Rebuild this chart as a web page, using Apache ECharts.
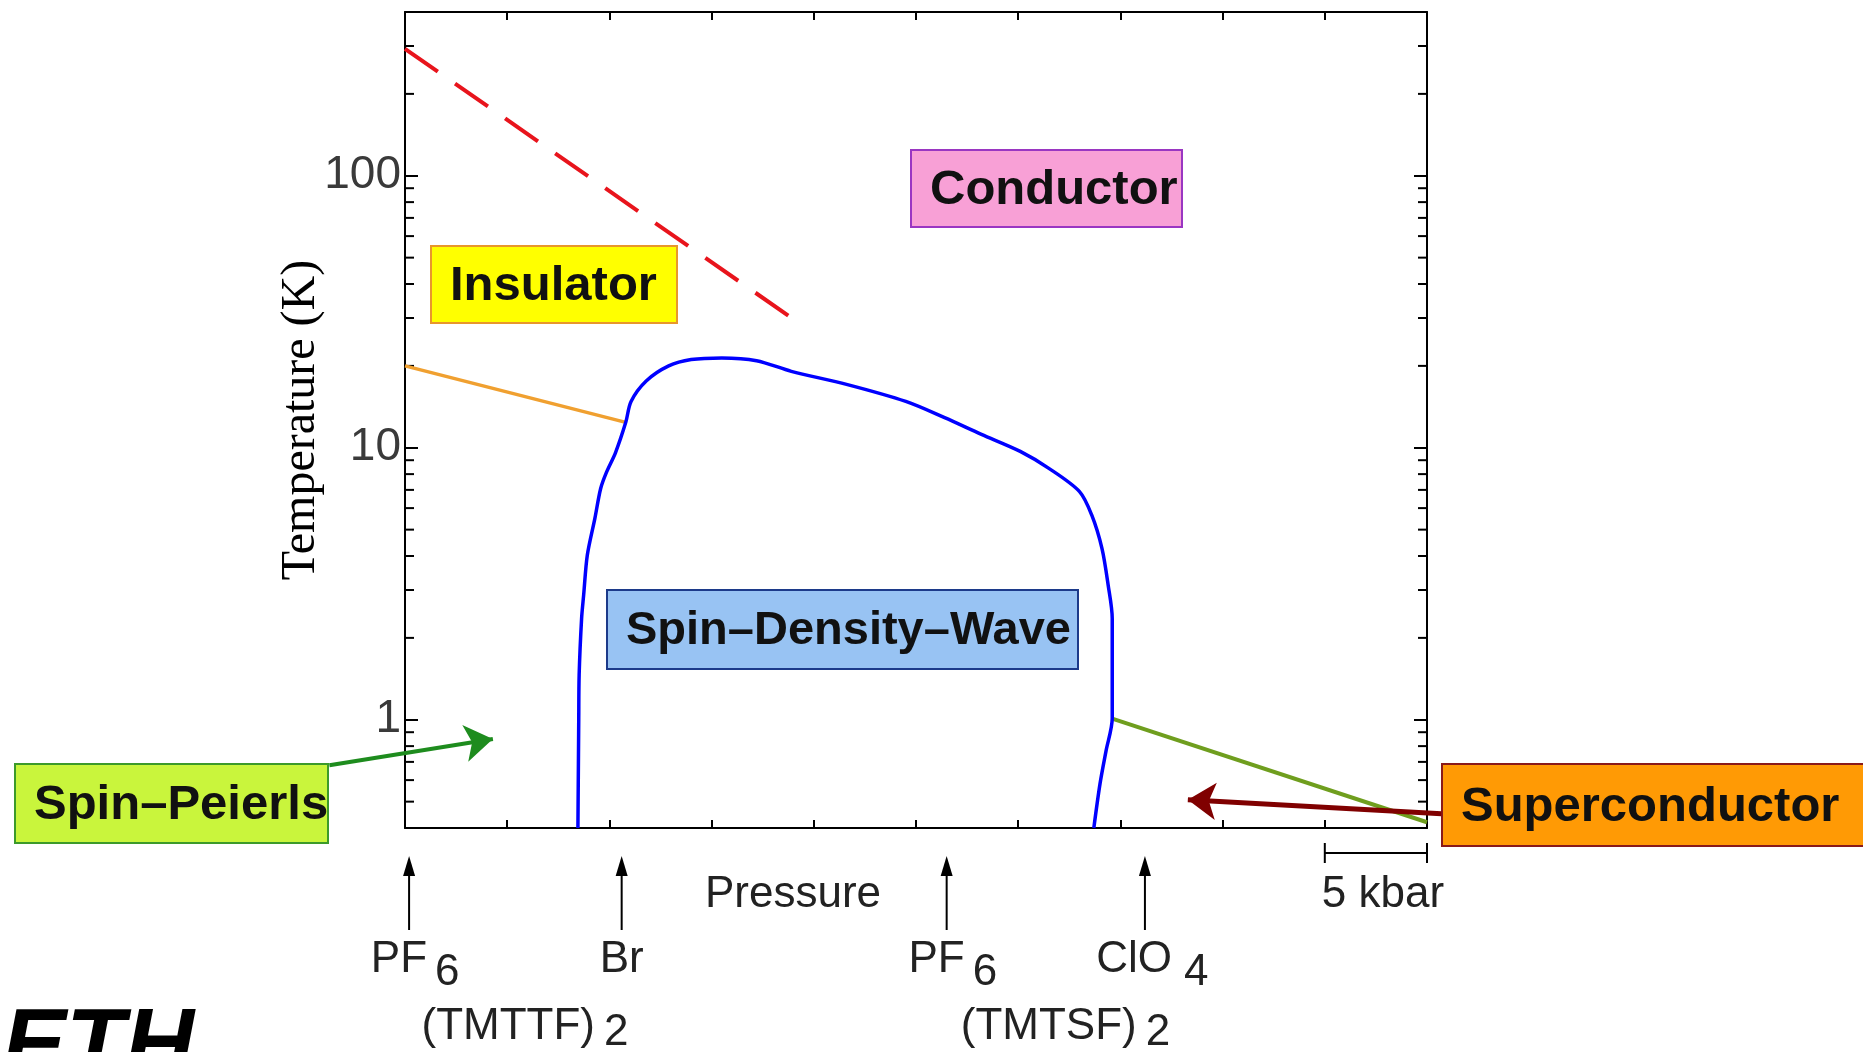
<!DOCTYPE html>
<html>
<head>
<meta charset="utf-8">
<script src="https://cdn.jsdelivr.net/npm/echarts@6/dist/echarts.min.js"></script>
<style>
html,body{margin:0;padding:0;background:#fff;}
#chart{width:1863px;height:1052px;}
</style>
</head>
<body>
<div id="chart"></div>
<script>
// ---- data (pressure in kbar, temperature in K) ----
const sdwPressure    = [8.46, 8.50, 8.52, 8.64, 8.74, 8.92, 9.29, 9.57, 9.85, 10.3, 10.8, 11.06, 11.8, 12.9, 14.0, 15.5, 17.2, 18.9, 21.6, 24.5, 26.4, 28.2, 30.1, 31.5, 33.0, 33.6, 34.1, 34.4, 34.6, 34.6, 34.3, 34.0, 33.7];
const sdwTemperature = [0.4, 1.0, 1.46, 2.36, 2.87, 4.03, 5.5, 7.07, 8.1, 9.6, 12.4, 14.8, 17.6, 20.0, 21.1, 21.4, 20.9, 19.1, 17.1, 14.8, 12.9, 11.2, 9.7, 8.4, 6.9, 5.65, 4.26, 3.13, 2.36, 1.01, 0.77, 0.58, 0.4];

const metalInsPressure = [0, 19.2];
const metalInsTemp     = [293, 29];

const insSdwPressure = [0, 10.8];
const insSdwTemp     = [20, 12.4];

const scPressure = [34.6, 50];
const scTemp     = [1.01, 0.42];

const spinPeierlsArrow    = [[-3.7, 0.68], [4.3, 0.85]];
const superconductorArrow = [[50.7, 0.451], [38.3, 0.508]];

const compoundPressure = [0.2, 10.6, 26.5, 36.2];
const compoundAnion    = ['PF', 'Br', 'PF', 'ClO'];
const compoundIndex    = ['6', '', '6', '4'];
const familyNames      = ['(TMTTF)', '(TMTSF)'];
const familyCenterP    = [0, 26.5];

const yMajorTicks = [1, 10, 100];
const yMinorTicks = [0.5, 0.6, 0.7, 0.8, 0.9, 2, 3, 4, 5, 6, 7, 8, 9, 20, 30, 40, 50, 60, 70, 80, 90, 200, 300];
const xMin = 0, xMax = 50, xStep = 5;
const yMin = 0.4, yMax = 400;
const scaleBar = [45, 50];

// ---- chart ----
const chart = echarts.init(document.getElementById('chart'), null, {renderer: 'canvas'});
const FONT = 'Liberation Sans';
const pair = (xs, ys) => xs.map((x, i) => [x, ys[i]]);

const xAxisCommon = {
  type: 'value', min: xMin, max: xMax, interval: xStep,
  axisLine: {show: true, onZero: false, lineStyle: {color: '#000', width: 2}},
  axisTick: {show: true, inside: true, length: 8, lineStyle: {color: '#000', width: 2}},
  axisLabel: {show: false},
  splitLine: {show: false}
};
const yAxisCommon = {
  type: 'log', logBase: 10, min: yMin, max: yMax,
  axisLine: {show: true, onZero: false, lineStyle: {color: '#000', width: 2}},
  axisTick: {show: true, inside: true, length: 13, lineStyle: {color: '#000', width: 2}},
  splitLine: {show: false},
  minorTick: {show: false}
};

const option = {
  backgroundColor: '#fff',
  animation: false,
  grid: {left: 405, right: 436, top: 12, bottom: 224, containLabel: false},
  xAxis: [
    Object.assign({position: 'bottom'}, xAxisCommon),
    Object.assign({position: 'top'}, xAxisCommon)
  ],
  yAxis: [
    Object.assign({
      position: 'left',
      name: 'Temperature (K)', nameLocation: 'middle', nameRotate: 90, nameGap: 80,
      nameMoveOverlap: false,
      nameTextStyle: {fontFamily: 'Liberation Serif', fontSize: 48, color: '#000'},
      axisLabel: {
        show: true, margin: 4, fontFamily: FONT, fontSize: 46, color: '#3a3a3a',
        showMinLabel: false, showMaxLabel: false,
        formatter: v => {
          const r = Math.round(v);
          return yMajorTicks.some(t => Math.abs(t - v) < 1e-6 * t) ? String(r) : '';
        }
      }
    }, yAxisCommon),
    Object.assign({position: 'right', axisLabel: {show: false}}, yAxisCommon)
  ],
  series: [
    {
      type: 'custom', name: 'minor ticks', silent: true, xAxisIndex: 0, yAxisIndex: 0,
      data: yMinorTicks.map(v => [xMin, v]),
      renderItem: (params, api) => {
        const v = api.value(1);
        const l = api.coord([xMin, v]);
        const r = api.coord([xMax, v]);
        return {type: 'group', children: [
          {type: 'line', shape: {x1: l[0], y1: l[1], x2: l[0] + 9, y2: l[1]}, style: {stroke: '#000', lineWidth: 2}},
          {type: 'line', shape: {x1: r[0] - 9, y1: r[1], x2: r[0], y2: r[1]}, style: {stroke: '#000', lineWidth: 2}}
        ]};
      }
    },
    {
      type: 'line', name: 'metal-insulator', data: pair(metalInsPressure, metalInsTemp),
      symbol: 'none',
      lineStyle: {color: '#e8141c', width: 4, type: [40, 21]}
    },
    {
      type: 'line', name: 'insulator-SDW', data: pair(insSdwPressure, insSdwTemp),
      symbol: 'none', lineStyle: {color: '#f0a030', width: 3.5}
    },
    {
      type: 'line', name: 'SC boundary', data: pair(scPressure, scTemp),
      symbol: 'none', lineStyle: {color: '#6f9e1e', width: 4}
    },
    {
      type: 'line', name: 'SDW', data: pair(sdwPressure, sdwTemperature),
      symbol: 'none', smooth: 0.3, lineStyle: {color: '#0000ff', width: 3.5}
    },
    {
      type: 'lines', coordinateSystem: 'cartesian2d', name: 'Spin-Peierls arrow', clip: false,
      symbol: ['none', 'arrow'], symbolSize: 28, z: 10,
      lineStyle: {color: '#1e8c1e', width: 4, opacity: 1},
      data: [{coords: spinPeierlsArrow}]
    },
    {
      type: 'lines', coordinateSystem: 'cartesian2d', name: 'Superconductor arrow', clip: false,
      symbol: ['none', 'arrow'], symbolSize: 28, z: 10,
      lineStyle: {color: '#800000', width: 5, opacity: 1},
      data: [{coords: superconductorArrow}]
    }
  ]
};
chart.setOption(option);

// ---- annotations ----
const px = p => chart.convertToPixel({xAxisIndex: 0}, p);

function box(x, y, w, h, fill, stroke, label, size) {
  return {
    type: 'group', x: x, y: y, z: 20,
    children: [
      {type: 'rect', shape: {x: 0, y: 0, width: w, height: h}, style: {fill: fill, stroke: stroke, lineWidth: 2}},
      {type: 'text', x: 19, y: h / 2 + 2, style: {text: label, fill: '#111', font: 'bold ' + (size || 49) + 'px "' + FONT + '"', textAlign: 'left', textVerticalAlign: 'middle'}}
    ]
  };
}

const graphics = [
  box(911, 150, 271, 77, '#f8a0d6', '#9a36c2', 'Conductor'),
  box(431, 246, 246, 77, '#ffff00', '#e8962c', 'Insulator'),
  box(607, 590, 471, 79, '#98c3f3', '#1c3a8a', 'Spin–Density–Wave', 47),
  box(15, 764, 313, 79, '#c9f53c', '#3c9a2a', 'Spin–Peierls'),
  box(1442, 764, 440, 82, '#ff9a05', '#8a1a1a', 'Superconductor')
];

const labelFont = '44px "' + FONT + '"';
const anionRight = [18, 0, 18, 27];
const indexLeft  = [26, 0, 26, 39];
compoundPressure.forEach((p, i) => {
  const x = px(p);
  graphics.push({type: 'line', shape: {x1: x, y1: 870, x2: x, y2: 930}, style: {stroke: '#000', lineWidth: 2}});
  graphics.push({type: 'polygon', shape: {points: [[x, 856], [x - 6, 876], [x + 6, 876]]}, style: {fill: '#000'}});
  if (compoundIndex[i]) {
    graphics.push({type: 'text', x: x + anionRight[i], y: 982, style: {text: compoundAnion[i], fill: '#222', font: labelFont, textAlign: 'right', textVerticalAlign: 'bottom'}});
    graphics.push({type: 'text', x: x + indexLeft[i], y: 995, style: {text: compoundIndex[i], fill: '#222', font: labelFont, textAlign: 'left', textVerticalAlign: 'bottom'}});
  } else {
    graphics.push({type: 'text', x: x, y: 982, style: {text: compoundAnion[i], fill: '#222', font: labelFont, textAlign: 'center', textVerticalAlign: 'bottom'}});
  }
});
familyNames.forEach((n, i) => {
  const x = px(familyCenterP[i]);
  graphics.push({type: 'text', x: x + 190, y: 1049, style: {text: n, fill: '#222', font: labelFont, textAlign: 'right', textVerticalAlign: 'bottom'}});
  graphics.push({type: 'text', x: x + 199, y: 1055, style: {text: '2', fill: '#222', font: labelFont, textAlign: 'left', textVerticalAlign: 'bottom'}});
});

graphics.push({type: 'text', x: (px(xMin) + px(xMax)) / 2 - 123, y: 895, style: {text: 'Pressure', fill: '#222', font: labelFont, textAlign: 'center', textVerticalAlign: 'middle'}});

const sb0 = px(scaleBar[0]), sb1 = px(scaleBar[1]);
graphics.push({type: 'line', shape: {x1: sb0, y1: 853, x2: sb1, y2: 853}, style: {stroke: '#000', lineWidth: 2}});
graphics.push({type: 'line', shape: {x1: sb0, y1: 843, x2: sb0, y2: 863}, style: {stroke: '#000', lineWidth: 2}});
graphics.push({type: 'line', shape: {x1: sb1, y1: 843, x2: sb1, y2: 863}, style: {stroke: '#000', lineWidth: 2}});
graphics.push({type: 'text', x: (sb0 + sb1) / 2 + 7, y: 895, style: {text: '5 kbar', fill: '#222', font: labelFont, textAlign: 'center', textVerticalAlign: 'middle'}});

graphics.push({type: 'text', x: 2, y: 1002, style: {text: 'ETH', fill: '#000', font: 'italic 900 96px "' + FONT + '"', textAlign: 'left', textVerticalAlign: 'top'}});

chart.setOption({graphic: graphics});
</script>
</body>
</html>
